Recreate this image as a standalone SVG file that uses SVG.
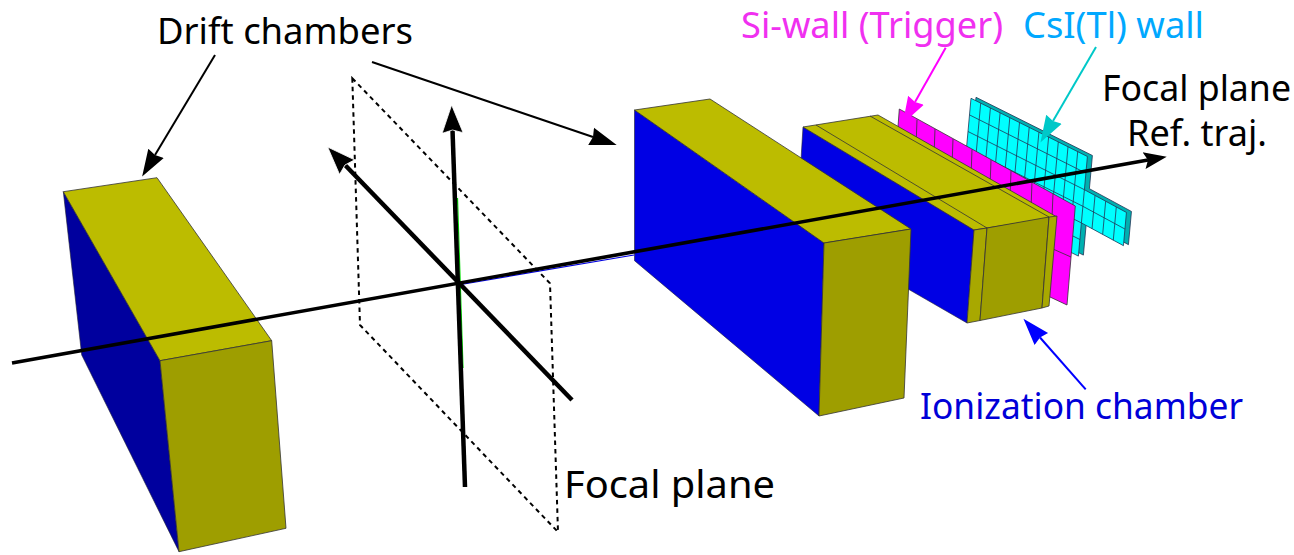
<svg xmlns="http://www.w3.org/2000/svg" width="1294" height="555" viewBox="0 0 1294 555">
<style>
text{font-family:"Noto Sans","Open Sans","Liberation Sans",sans-serif;font-size:36px}
.k{fill:#000}
.top{fill:#bcbc00;stroke:#333;stroke-width:.8}
.front{fill:#9e9e00;stroke:#333;stroke-width:.8}
.strip{fill:#a8a800;stroke:#333;stroke-width:.8}
.thin{fill:none;stroke:#333;stroke-width:.8}
.blue{fill:#0000e4;stroke:#223;stroke-width:.6}
.grid{vector-effect:non-scaling-stroke;stroke:#235;stroke-width:.8;fill:none}
.csi{vector-effect:non-scaling-stroke;stroke:#235;stroke-width:.8;fill:#0ff}
.side{vector-effect:non-scaling-stroke;stroke:#235;stroke-width:.8;fill:#00b0b0}
.ln{fill:none;stroke:#000;stroke-width:2}
.axis{fill:none;stroke:#000;stroke-width:4.5}
</style>
<defs>
<marker id="hk" markerUnits="userSpaceOnUse" markerWidth="30" markerHeight="24" refX="2" refY="12" orient="auto"><path d="M0,3L27,12L0,21L2,12z" fill="#000"/></marker>
<marker id="hm" markerUnits="userSpaceOnUse" markerWidth="30" markerHeight="24" refX="2" refY="12" orient="auto"><path d="M0,3L27,12L0,21L2,12z" fill="#f0f"/></marker>
<marker id="hc" markerUnits="userSpaceOnUse" markerWidth="30" markerHeight="24" refX="2" refY="12" orient="auto"><path d="M0,3L27,12L0,21L2,12z" fill="#00c8c8"/></marker>
<marker id="hb" markerUnits="userSpaceOnUse" markerWidth="30" markerHeight="24" refX="2" refY="12" orient="auto"><path d="M0,3L27,12L0,21L2,12z" fill="#00f"/></marker>
<marker id="hx" markerUnits="userSpaceOnUse" markerWidth="34" markerHeight="28" refX="3" refY="14" orient="auto"><path d="M0,3.5L28,14L0,24.5L3,14z" fill="#000" stroke="#fff" stroke-width=".8"/></marker>
<marker id="ht" markerUnits="userSpaceOnUse" markerWidth="28" markerHeight="22" refX="4" refY="11" orient="auto"><path d="M0,2.5L23,11L0,19.5L4,11z" fill="#000"/></marker>
</defs>
<rect width="1294" height="555" fill="#fff"/>
<g id="drift-chamber-1">
<polygon class="blue" style="fill:#00009e" points="63.3,191.7 160,360.7 179,551.7 81.7,355"/>
<polygon class="top" points="63.3,191.7 157,177.7 271.7,340.7 160,360.7"/>
<polygon class="front" points="160,360.7 271.7,340.7 286,528.3 179,551.7"/>
</g>
<g id="focal-plane">
<path d="M352.3,78.3L550,283.3L558,532L360,325z" fill="none" stroke="#000" stroke-width="2" stroke-dasharray="4.5 4"/>
<text x="564" y="498" textLength="211" lengthAdjust="spacingAndGlyphs" class="k" style="font-size:38px">Focal plane</text>
</g>
<g id="csi-wall">
<g transform="translate(5 -1)"><g transform="matrix(9.7 4.85 -1.5 16.6 971 98.3)"><polygon class="side" points="0,0 12,0 12,2 16.35,2.1 16.35,4.1 12,4 12,6 0,6"/></g></g>
<g transform="matrix(9.7 4.85 -1.5 16.6 971 98.3)">
<polygon class="csi" points="0,0 12,0 12,2 16.35,2.1 16.35,4.1 12,4 12,6 0,6"/>
<path class="grid" d="M1,0V6M2,0V6M3,0V6M4,0V6M5,0V6M6,0V6M7,0V6M8,0V6M9,0V6M10,0V6M11,0V6M12,2V4M13.1,2.03V4.03M14.2,2.05V4.05M15.3,2.08V4.08M0,1H12M0,2H12M0,3H12L16.35,3.1M0,4H12M0,5H12"/>
</g>
<text x="1023" y="38" textLength="181" lengthAdjust="spacingAndGlyphs" style="fill:#00a8ff">CsI(Tl) wall</text>
</g>
<g id="si-wall">
<polygon points="899.3,109 1075.3,206 1067,305 891,222" fill="#f0f" stroke="#333" stroke-width=".8"/>
<path class="thin" d="M917,119.5L915,174M935,129L933,183M953,139L951,193M972,149.5L970,204M991,160L989,214M1011,171L1009,225M1032,182L1030,236M1053,194L1050.7,248L1071,257"/>
<text x="741" y="38" textLength="262" lengthAdjust="spacingAndGlyphs" style="fill:#f030f0">Si-wall (Trigger)</text>
</g>
<g id="ionization-chamber">
<polygon class="blue" points="803,127 974,230 967,323 797,225"/>
<polygon class="top" points="803,127 878,115 1057,217 974,230"/>
<polygon class="strip" points="974,230 987,228 980,320.5 967,323"/>
<polygon class="front" points="987,228 1049,217 1042,308 980,320.5"/>
<polygon class="strip" points="1049,217 1057,216 1049,306 1042,308"/>
<path class="thin" d="M816,125L987,228M870,116L1049,217"/>
<text x="920" y="419" textLength="323" lengthAdjust="spacingAndGlyphs" style="fill:#0000d8">Ionization chamber</text>
</g>
<g id="drift-chamber-2">
<polygon class="blue" points="634.5,110 824,243 819,416 634.5,260.7"/>
<polygon class="top" points="634.5,110 710,99 911,229 824,243"/>
<polygon class="front" points="824,243 911,229 904,398 819,416"/>
</g>
<g id="connectors">
<path d="M457.5,198L463,368" fill="none" stroke="#00e000" stroke-width="1.2"/>
<path d="M458,285L634,255" fill="none" stroke="#0000e0" stroke-width="1.2"/>
<path d="M12,363L1148,160" fill="none" stroke="#000" stroke-width="3.6" marker-end="url(#ht)"/>
<path class="axis" d="M465,487L452.5,130" marker-end="url(#hx)"/>
<path class="axis" d="M572,400L345,165" marker-end="url(#hx)"/>
<path class="ln" d="M215,55L155,155" marker-end="url(#hk)"/>
<path class="ln" d="M372,62L593,137" marker-end="url(#hk)"/>
<path style="fill:none;stroke:#f0f;stroke-width:2" d="M945.7,47.7L915,102" marker-end="url(#hm)"/>
<path style="fill:none;stroke:#00c8c8;stroke-width:2" d="M1096,47L1053,121" marker-end="url(#hc)"/>
<path style="fill:none;stroke:#00f;stroke-width:2" d="M1085.7,389.3L1040,337.5" marker-end="url(#hb)"/>
</g>
<g id="labels">
<text x="157" y="44" textLength="256" lengthAdjust="spacingAndGlyphs" class="k">Drift chambers</text>
<text x="1102" y="101" textLength="189" lengthAdjust="spacingAndGlyphs" class="k">Focal plane</text>
<text x="1127" y="146" textLength="140" lengthAdjust="spacingAndGlyphs" class="k">Ref. traj.</text>
</g>
</svg>
